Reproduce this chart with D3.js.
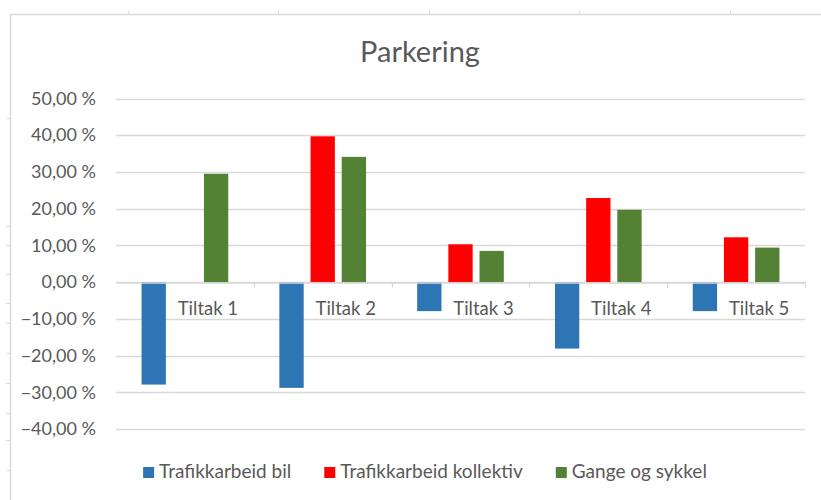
<!DOCTYPE html>
<html>
<head>
<meta charset="utf-8">
<script src="https://cdnjs.cloudflare.com/ajax/libs/d3/7.8.5/d3.min.js"></script>
<style>
  html, body { margin: 0; padding: 0; background: #fff; }
  svg { display: block; }
  text { font-family: Lato, "Open Sans", sans-serif; fill: #595959; }
</style>
</head>
<body>
<svg id="chart" width="821" height="500"></svg>
<script>
// Data
const title = "Parkering";
const categories = ["Tiltak 1", "Tiltak 2", "Tiltak 3", "Tiltak 4", "Tiltak 5"];
const seriesNames = ["Trafikkarbeid bil", "Trafikkarbeid kollektiv", "Gange og sykkel"];
const bil = [-27.9, -28.8, -7.9, -18.1, -7.9];
const kollektiv = [0, 39.7, 10.3, 22.9, 12.2];
const gangeSykkel = [29.5, 34.1, 8.5, 19.7, 9.4];
const yTicks = [50, 40, 30, 20, 10, 0, -10, -20, -30, -40];
const seriesColors = ["#2E75B6", "#FF0000", "#548235"];

const seriesValues = [bil, kollektiv, gangeSykkel];
const rows = categories.map((c, i) => ({
  category: c,
  values: seriesNames.map((s, j) => ({ series: s, value: seriesValues[j][i], color: seriesColors[j] }))
}));

const svg = d3.select("#chart");
const W = 821, H = 500;
const plot = { left: 116, right: 805, top: 98.5, bottom: 429 };

// Frame of the chart area with small cell stubs peeking out
const frame = svg.append("g").attr("stroke", "#d9d9d9").attr("fill", "none");
frame.append("line").attr("x1", 10).attr("x2", W).attr("y1", 14.5).attr("y2", 14.5).attr("stroke-width", 1.5);
frame.append("line").attr("x1", 10.5).attr("x2", 10.5).attr("y1", 14).attr("y2", H).attr("stroke-width", 1.5);
[128, 278, 429, 579, 730].forEach(x =>
  frame.append("line").attr("x1", x + 0.5).attr("x2", x + 0.5).attr("y1", 11).attr("y2", 14));
[118, 226, 245, 274, 303, 323, 353, 383, 413, 440, 470].forEach(y =>
  frame.append("line").attr("x1", 6).attr("x2", 10).attr("y1", y + 0.5).attr("y2", y + 0.5));

// Scales
const y = d3.scaleLinear().domain([-40, 50]).range([plot.bottom, plot.top]);
const x0 = d3.scaleBand().domain(categories).range([plot.left, plot.right]).paddingInner(0).paddingOuter(0);
const x1 = d3.scaleBand().domain(seriesNames).range([0, x0.bandwidth()]).paddingInner(0.22).paddingOuter(0.82);

// Gridlines
svg.append("g")
  .selectAll("line")
  .data(yTicks)
  .join("line")
  .attr("x1", plot.left).attr("x2", plot.right)
  .attr("y1", d => Math.round(y(d)) + 0.5).attr("y2", d => Math.round(y(d)) + 0.5)
  .attr("stroke", "#d9d9d9").attr("stroke-width", 1.3);

// Y axis labels
const fmt = d => d3.format(".2f")(d).replace(".", ",") + " %";
const yAxis = d3.axisLeft(y).tickValues(yTicks).tickSize(0).tickPadding(0).tickFormat(fmt);
const yg = svg.append("g").attr("transform", `translate(96,0)`).call(yAxis);
yg.select(".domain").remove();
yg.selectAll("text").attr("font-size", 18).attr("fill", "#595959")
  .style("font-family", "Lato, sans-serif");

// Bars
const groups = svg.append("g")
  .selectAll("g")
  .data(rows)
  .join("g")
  .attr("transform", d => `translate(${x0(d.category)},0)`);

groups.selectAll("rect")
  .data(d => d.values.filter(v => v.value !== 0))
  .join("rect")
  .attr("x", d => x1(d.series))
  .attr("width", x1.bandwidth())
  .attr("y", d => y(Math.max(0, d.value)))
  .attr("height", d => Math.abs(y(d.value) - y(0)))
  .attr("fill", d => d.color);

// Category axis on the zero line
const xAxis = d3.axisBottom(x0).tickSize(0).tickPadding(0);
const xg = svg.append("g").attr("transform", `translate(0,${Math.round(y(0)) + 0.5})`).call(xAxis);
xg.select(".domain").attr("stroke", "#d9d9d9").attr("stroke-width", 1.3);
xg.selectAll(".tick text")
  .attr("font-size", 18.5).attr("fill", "#595959")
  .style("font-family", "Lato, sans-serif")
  .attr("x", 23).attr("y", 0).attr("dy", "1.75em");
// Category dividers below the axis
xg.append("g").selectAll("line")
  .data(categories.slice(1).concat(["end"]))
  .join("line")
  .attr("x1", (d, i) => Math.round(x0(categories[0]) + x0.step() * (i + 1)) + 0.5)
  .attr("x2", (d, i) => Math.round(x0(categories[0]) + x0.step() * (i + 1)) + 0.5)
  .attr("y1", 0).attr("y2", 5)
  .attr("stroke", "#d9d9d9").attr("stroke-width", 1.3);

// Title
svg.append("text")
  .attr("x", 420).attr("y", 62)
  .attr("text-anchor", "middle")
  .attr("font-size", 29)
  .text(title);

// Legend
const legend = svg.append("g");
const items = legend.selectAll("g").data(seriesNames).join("g");
items.append("rect").attr("width", 11).attr("height", 11).attr("y", -11)
  .attr("fill", (d, i) => seriesColors[i]);
items.append("text").attr("x", 16).attr("y", 0).attr("font-size", 19).text(d => d);
let cx = 0;
const widths = [];
items.each(function () { widths.push(this.querySelector("text").getComputedTextLength() + 16); });
const gap = 33;
const total = d3.sum(widths) + gap * (widths.length - 1);
const startX = 425 - total / 2;
items.attr("transform", (d, i) => {
  const t = `translate(${startX + cx},478)`;
  cx += widths[i] + gap;
  return t;
});
</script>
</body>
</html>
